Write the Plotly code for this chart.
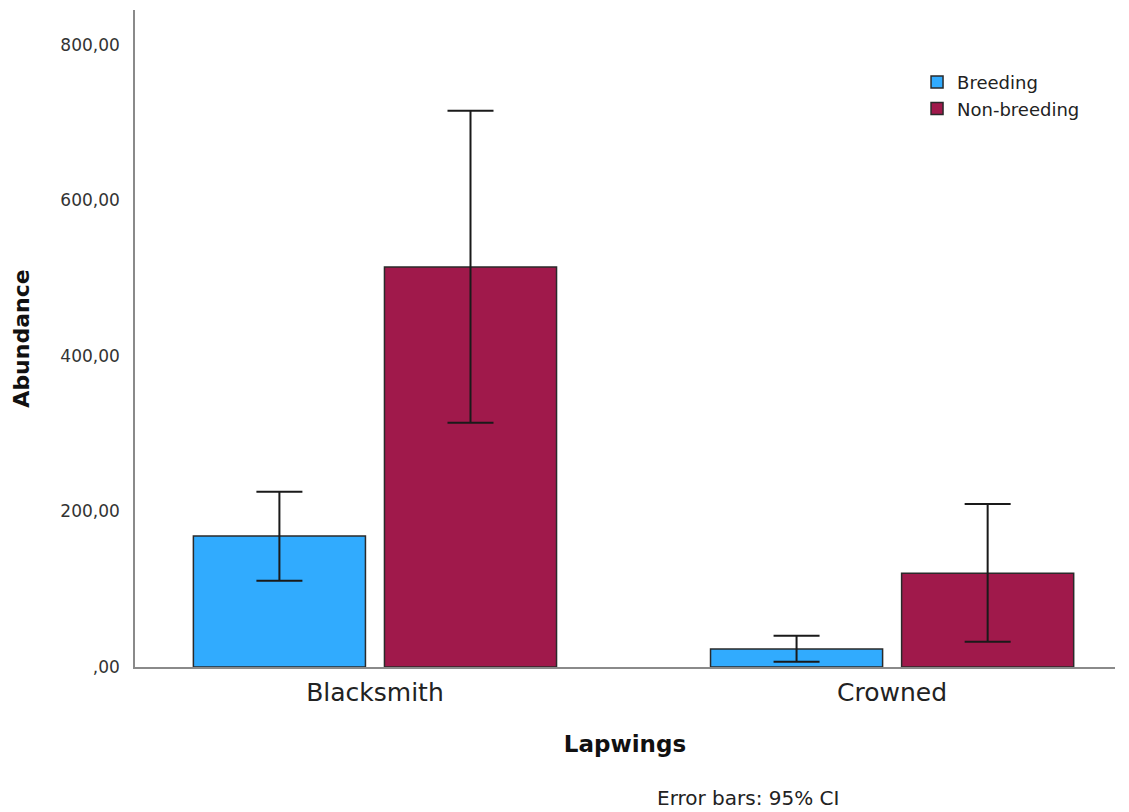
import plotly.graph_objects as go

categories = ["Blacksmith", "Crowned"]
series_names = ["Breeding", "Non-breeding"]
breeding_mean = [168.5, 23.2]
breeding_ci_hi = [225.5, 40.3]
breeding_ci_lo = [111.0, 6.8]
nonbreeding_mean = [514.5, 120.5]
nonbreeding_ci_hi = [715.5, 209.6]
nonbreeding_ci_lo = [314.0, 32.5]
ytick_vals = [0, 200, 400, 600, 800]
ytick_text = [",00", "200,00", "400,00", "600,00", "800,00"]

colors = ["#31ABFE", "#A0194B"]
FONT = "DejaVu Sans"

def err(mean, hi, lo):
    return dict(type="data", symmetric=False,
                array=[h - m for h, m in zip(hi, mean)],
                arrayminus=[m - l for m, l in zip(mean, lo)],
                color="#1a1a1a", thickness=2, width=23)

fig = go.Figure()
fig.add_trace(go.Bar(x=categories, y=breeding_mean, name=series_names[0],
                     marker=dict(color=colors[0], line=dict(color="#2a2a2a", width=1.5)),
                     error_y=err(breeding_mean, breeding_ci_hi, breeding_ci_lo)))
fig.add_trace(go.Bar(x=categories, y=nonbreeding_mean, name=series_names[1],
                     marker=dict(color=colors[1], line=dict(color="#2a2a2a", width=1.5)),
                     error_y=err(nonbreeding_mean, nonbreeding_ci_hi, nonbreeding_ci_lo)))

# page body has an 8px default margin; figure is sized/offset to compensate
fig.update_layout(
    width=1121, height=804,
    margin=dict(l=127, r=14, t=2, b=145),
    paper_bgcolor="white", plot_bgcolor="white",
    barmode="group", bargap=0.261, bargroupgap=0.0995,
    font=dict(family=FONT, color="#222222"),
    showlegend=True,
    legend=dict(x=0.798, y=0.918, xanchor="left", yanchor="top",
                font=dict(family=FONT, size=18, color="#222222"),
                bgcolor="rgba(0,0,0,0)", tracegroupgap=2),
    xaxis=dict(range=[-0.464, 1.431], showline=True, linecolor="#8a8a8a", linewidth=1.5,
               showgrid=False, zeroline=False, ticks="",
               tickfont=dict(family=FONT, size=25, color="#222222"),
               ticklabelstandoff=2,
               title=dict(text="<b>Lapwings</b>", font=dict(family=FONT, size=23, color="#111111"),
                          standoff=30)),
    yaxis=dict(range=[0, 845], showline=True, linecolor="#8a8a8a", linewidth=1.5,
               showgrid=False, zeroline=False, ticks="",
               tickvals=ytick_vals, ticktext=ytick_text,
               tickfont=dict(family=FONT, size=17, color="#333333"),
               ticklabelstandoff=10,
               title=dict(text="<b>Abundance</b>", font=dict(family=FONT, size=22, color="#111111"),
                          standoff=25)),
    annotations=[dict(text="Error bars: 95% CI", xref="paper", yref="paper",
                      x=0.6255, y=-0.1994, xanchor="center", yanchor="middle",
                      showarrow=False, font=dict(family=FONT, size=20, color="#222222"))],
)

fig.write_html("out.html")
